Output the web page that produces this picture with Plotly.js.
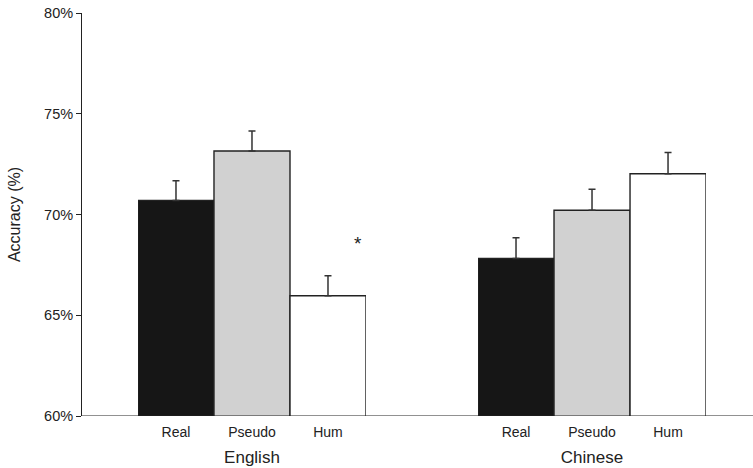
<!DOCTYPE html>
<html>
<head>
<meta charset="utf-8">
<script src="https://cdn.plot.ly/plotly-3.0.1.min.js"></script>
<style>html,body{margin:0;padding:0;background:#fff;}#chart{width:753px;height:468px;}</style>
</head>
<body>
<div id="chart"></div>
<script>
const conditions = ["Real", "Pseudo", "Hum"];
const groups = ["English", "Chinese"];
const englishAcc = [70.7, 73.15, 65.97];
const englishErr = [0.97, 0.99, 0.99];
const chineseAcc = [67.82, 70.21, 72.02];
const chineseErr = [1.03, 1.04, 1.06];
const barColors = ["#161616", "#d1d1d1", "#ffffff"];
const yTicks = [60, 65, 70, 75, 80];

const FONT = "'Liberation Sans', Arial, Helvetica, sans-serif";

function barTrace(vals, errs, xa) {
  return {
    type: "bar",
    x: conditions,
    y: vals,
    xaxis: xa,
    yaxis: "y",
    width: 1,
    marker: { color: barColors, line: { color: "#222", width: 1.4 } },
    error_y: { type: "data", symmetric: false, array: errs, arrayminus: errs.map(() => 0),
               color: "#333", thickness: 1.5, width: 3.5 },
    hoverinfo: "skip",
    showlegend: false
  };
}

const data = [
  barTrace(englishAcc, englishErr, "x"),
  barTrace(chineseAcc, chineseErr, "x2")
];

const xCommon = {
  type: "category",
  range: [-0.5, 2.5],
  showline: false,
  ticks: "",
  showgrid: false,
  zeroline: false,
  tickfont: { family: FONT, size: 14, color: "#222" },
  ticklabelstandoff: 6,
  anchor: "y",
  automargin: false,
  fixedrange: true
};

const layout = {
  width: 753,
  height: 468,
  margin: { l: 81, r: 0, t: 13, b: 52 },
  paper_bgcolor: "#fff",
  plot_bgcolor: "#fff",
  bargap: 0,
  font: { family: FONT, color: "#222" },
  xaxis: Object.assign({}, xCommon, {
    domain: [0.0848, 0.4241],
    title: { text: groups[0], font: { family: FONT, size: 17, color: "#222" }, standoff: 12 }
  }),
  xaxis2: Object.assign({}, xCommon, {
    domain: [0.5908, 0.9301],
    title: { text: groups[1], font: { family: FONT, size: 17, color: "#222" }, standoff: 12 }
  }),
  yaxis: {
    range: [60, 80],
    tickvals: yTicks,
    ticktext: yTicks.map(v => v + "%"),
    ticks: "outside",
    ticklen: 5,
    tickcolor: "#222",
    tickwidth: 1,
    showline: true,
    linecolor: "#222",
    linewidth: 1,
    showgrid: false,
    zeroline: false,
    anchor: "free",
    position: 0,
    automargin: false,
    tickfont: { family: FONT, size: 14.5, color: "#222" },
    title: { text: "Accuracy (%)", font: { family: FONT, size: 16, color: "#222" }, standoff: 18 },
    fixedrange: true
  },
  shapes: [
    { type: "line", xref: "paper", yref: "y", x0: 0, x1: 1, y0: 60, y1: 60,
      line: { color: "#222", width: 1 } }
  ],
  annotations: [
    { xref: "x", yref: "y", x: 2.39, y: 68.55, text: "*", showarrow: false,
      font: { family: FONT, size: 19, color: "#222" } }
  ]
};

Plotly.newPlot("chart", data, layout, { displayModeBar: false, staticPlot: true });
</script>
</body>
</html>
